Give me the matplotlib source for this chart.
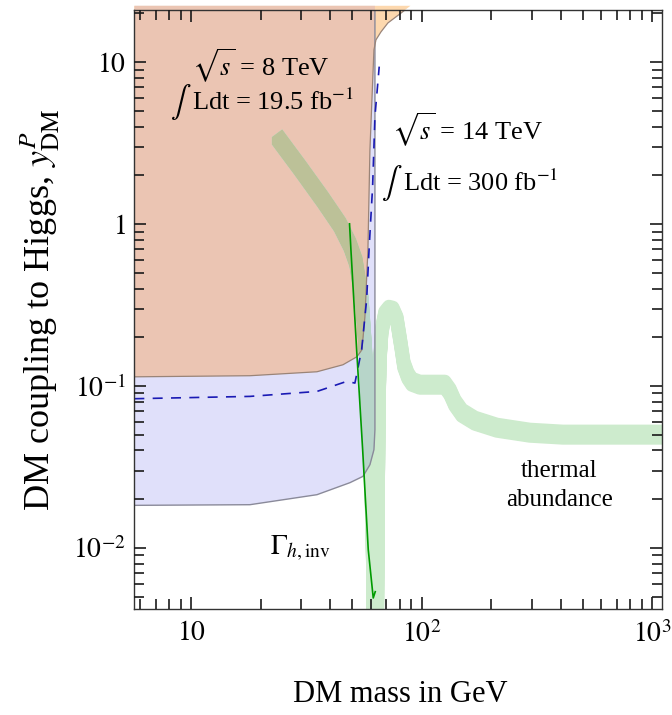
import numpy as np
import matplotlib
matplotlib.use("Agg")
import matplotlib.pyplot as plt
import matplotlib.transforms as mtransforms
from matplotlib.patches import Polygon
from matplotlib.ticker import LogLocator, NullFormatter

plt.rcParams['font.family'] = ['Liberation Serif', 'DejaVu Serif']
plt.rcParams['mathtext.fontset'] = 'stix'

# axis ranges
X_MIN, X_MAX = 5.66, 1100.0
Y_MIN, Y_MAX = 0.0042, 21.0
Y_TOP = 22.3  # shaded regions run a little past the frame, as in the original

# 8 TeV excluded region (outline)
lhc8_x = [5.66, 17.96, 35.07, 45.45, 52.28, 54.95, 56.62, 58.34, 59.52, 61.95,
          63.2, 66.44, 71.25, 80.3, 89.2, 5.66]
lhc8_y = [0.114, 0.1158, 0.1225, 0.1353, 0.1517, 0.1675, 0.2679, 0.694, 2.874, 11.91,
          13.73, 15.38, 17.48, 19.87, Y_TOP, Y_TOP]

# 14 TeV projected region (outline)
lhc14_x = [5.66, 17.96, 35.07, 48.74, 55.5, 59.52, 61.95, 62.57, 62.57, 5.66]
lhc14_y = [0.01833, 0.0185, 0.02133, 0.0253, 0.02767, 0.03267, 0.04045, 0.0537, Y_TOP, Y_TOP]

# 14 TeV dashed curve
dash_x = [5.66, 17.96, 35.07, 47.16, 51.23, 54.78, 57.59, 59.1, 61.14, 62.57, 65.3]
dash_y = [0.0835, 0.0863, 0.0926, 0.1068, 0.1043, 0.1675, 0.3408, 0.7274, 1.707, 4.615, 9.39]

# invisible width bound
gam_x = [48.55, 49.23, 52.12, 55.34, 58.53, 61.52, 62.76]
gam_y = [1.004, 0.694, 0.1675, 0.0405, 0.00976, 0.00491, 0.00537]

# thermal abundance band (centre line)
band_x = [23.52, 29.59, 37.23, 44.12, 48.74, 51.74, 54.95, 56.9, 58.34, 60.12, 61.01, 61.63,
          64.13, 64.45, 64.77, 65.1, 65.77, 67.08, 69.12, 71.94, 74.87, 77.92, 81.1, 83.56,
          86.97, 90.51, 98.0, 125.8, 132.3, 139.0, 149.1, 169.7, 211.4, 293.9, 408.5, 721.0, 1100.0]
band_y = [3.459, 2.226, 1.413, 0.990, 0.745, 0.5854, 0.3408, 0.1675, 0.0646, 0.0253, 0.00976, 0.00336,
          0.00336, 0.00976, 0.0253, 0.0646, 0.1453, 0.2227, 0.2755, 0.2958, 0.2916, 0.2566, 0.1798, 0.1353,
          0.1158, 0.1063, 0.1019, 0.1019, 0.0922, 0.0788, 0.0684, 0.0611, 0.0553, 0.0515, 0.0501, 0.0501, 0.0501]

x_ticks = [10, 100, 1000]
x_tick_labels = [r'$10$', r'$10^2$', r'$10^3$']
y_ticks = [0.01, 0.1, 1, 10]
y_tick_labels = [r'$10^{-2}$', r'$10^{-1}$', r'$1$', r'$10$']

fig = plt.figure(figsize=(6.72, 7.15), dpi=100)
ax = fig.add_axes([0.1999, 0.1483, 0.7852, 0.8377])
ax.set_xscale('log')
ax.set_yscale('log')
ax.set_xlim(X_MIN, X_MAX)
ax.set_ylim(Y_MIN, Y_MAX)
ax.set_axisbelow(False)

# shaded regions
blue = Polygon(np.column_stack([lhc14_x, lhc14_y]), closed=True, facecolor='#E0E0FA',
               edgecolor='none', transform=ax.transData, zorder=0.5)
blue.set_clip_on(False)
ax.add_patch(blue)
orange = Polygon(np.column_stack([lhc8_x, lhc8_y]), closed=True, facecolor='#FDD8AE',
                 edgecolor='none', transform=ax.transData, zorder=0.6)
orange.set_clip_on(False)
ax.add_patch(orange)
overlap = Polygon(np.column_stack([lhc8_x, lhc8_y]), closed=True, facecolor='#EBC5B3',
                  edgecolor='none', transform=ax.transData, zorder=0.7)
overlap.set_clip_path(blue)
ax.add_patch(overlap)


def draw_band(color, clip=None, z=1.0):
    # thick band, a bit thicker vertically than horizontally
    for dy in np.linspace(-3.5, 3.5, 8):
        off = mtransforms.ScaledTranslation(0, dy / 100.0, fig.dpi_scale_trans)
        line, = ax.plot(band_x, band_y, color=color, lw=9.4, solid_capstyle='butt',
                        solid_joinstyle='round', transform=ax.transData + off, zorder=z)
        if clip is not None:
            line.set_clip_path(clip)


draw_band('#CDEBCD', z=1.0)
draw_band('#B7D5C9', clip=blue, z=1.1)
draw_band('#BCC198', clip=overlap, z=1.2)

# region edges
ax.plot(lhc14_x[:-1], lhc14_y[:-1], color='#8a8a9a', lw=1.0, zorder=1.5)
ax.plot(lhc8_x[:-1], lhc8_y[:-1], color='#9a8478', lw=0.9, zorder=1.5)

ax.plot(dash_x, dash_y, color='#1a1ab4', lw=1.2, ls=(0, (6, 5)), zorder=1.6)
ax.plot(gam_x, gam_y, color='#009a00', lw=1.2, zorder=1.7)

ax.set_xlim(X_MIN, X_MAX)
ax.set_ylim(Y_MIN, Y_MAX)

# ticks
ax.set_xticks(x_ticks, x_tick_labels)
ax.set_yticks(y_ticks, y_tick_labels)
ax.xaxis.set_minor_locator(LogLocator(base=10, subs=np.arange(2, 10), numticks=50))
ax.yaxis.set_minor_locator(LogLocator(base=10, subs=np.arange(2, 10), numticks=50))
ax.xaxis.set_minor_formatter(NullFormatter())
ax.yaxis.set_minor_formatter(NullFormatter())
ax.tick_params(which='major', direction='in', top=True, right=True, bottom=True, left=True,
               colors='#1a1a1a', width=1.2, length=8.5)
ax.tick_params(which='minor', direction='in', top=True, right=True, bottom=True, left=True,
               colors='#1a1a1a', width=1.2, length=7)
ax.tick_params(axis='x', which='major', labelsize=20, pad=9, labelcolor='black')
ax.tick_params(axis='y', which='major', labelsize=20, pad=6, labelcolor='black')
for sp in ax.spines.values():
    sp.set_color('#333333')
    sp.set_linewidth(1.0)

ax.set_xlabel('DM mass in GeV', fontsize=22)
ax.xaxis.set_label_coords(0.505, -0.118)
ax.set_ylabel(r'DM coupling to Higgs, $y_{\rm DM}^{P}$', fontsize=26)
ax.yaxis.set_label_coords(-0.137, 0.5)

# annotations
ax.text(20.0, 8.23, r'$\sqrt{s}$ = 8 TeV', fontsize=19, ha='center', va='baseline', zorder=2)
ax.text(8.1, 5.08, r'$\int$', fontsize=22, ha='left', va='baseline', zorder=2)
ax.text(10.05, 5.08, r'Ldt = 19.5 fb$^{-1}$', fontsize=19, ha='left', va='baseline', zorder=2)
ax.text(157, 3.31, r'$\sqrt{s}$ = 14 TeV', fontsize=19, ha='center', va='baseline', zorder=2)
ax.text(66.4, 1.61, r'$\int$', fontsize=22, ha='left', va='baseline', zorder=2)
ax.text(82.5, 1.61, r'Ldt = 300 fb$^{-1}$', fontsize=19, ha='left', va='baseline', zorder=2)
ax.text(29.6, 0.0091, r'$\Gamma_{h,\mathrm{inv}}$', fontsize=20, ha='center', va='baseline', zorder=2)
ax.text(394.5, 0.0273, 'thermal', fontsize=18, ha='center', va='baseline', zorder=2)
ax.text(394.5, 0.01807, 'abundance', fontsize=18, ha='center', va='baseline', zorder=2)

fig.savefig('out.png', dpi=100)
